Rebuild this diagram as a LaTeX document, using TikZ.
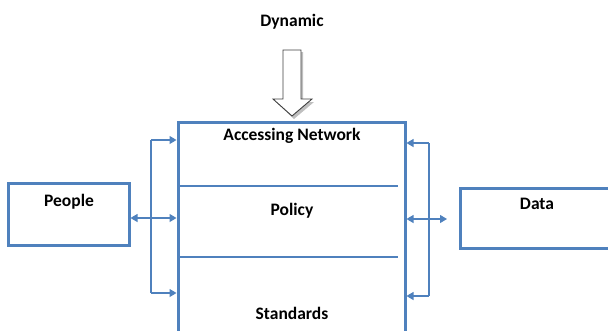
\documentclass[tikz,border=0pt]{standalone}
\usepackage{fontspec}
\setmainfont{Carlito}
\usetikzlibrary{arrows.meta}
\definecolor{oblue}{HTML}{4F81BD}
\tikzset{
  box/.style={draw=oblue, line width=3pt, fill=white, inner sep=0pt},
  lbl/.style={font=\bfseries\fontsize{17.5}{17.5}\selectfont, inner sep=0pt, text=black},
  conn/.style={draw=oblue, line width=1.1pt, -{Triangle[length=7pt,width=8pt]}},
  conn2/.style={draw=oblue, line width=1.1pt, {Triangle[length=7pt,width=8pt]}-{Triangle[length=7pt,width=8pt]}},
  brk/.style={draw=oblue, line width=1.1pt},
  divider/.style={draw=oblue, line width=1.1pt},
  blockarrow/.style={draw=black!75, line width=0.9pt, fill=white}
}
\begin{document}
\begin{tikzpicture}[x=1pt,y=-1pt]
\useasboundingbox (0,0) rectangle (608,330);
\clip (0,0) rectangle (608,330);
% boxes
\node[box, minimum width=227pt, minimum height=226pt] (main) at (291.5,235) {};
\node[box, minimum width=121pt, minimum height=62pt] (people) at (68.5,214) {};
\node[box, minimum width=160pt, minimum height=60pt] (data) at (540,218) {};
% dividers
\coordinate (d1a) at (178,186); \coordinate (d1b) at (398,186);
\coordinate (d2a) at (178,257); \coordinate (d2b) at (398,257);
\draw[divider] (d1a) -- (d1b);
\draw[divider] (d2a) -- (d2b);
% labels
\node[lbl] (tdyn) at (292,21.5) {Dynamic};
\node[lbl] (tacc) at (292,135.5) {Accessing Network};
\node[lbl] (tpol) at (292,210.5) {Policy};
\node[lbl] (tstd) at (292,313) {Standards};
\node[lbl] (tpeo) at (69,201.5) {People};
\node[lbl] (tdat) at (537,203.5) {Data};
% block arrow
\fill[black!25] (285,52) -- (303,52) -- (303,102) -- (314,102) -- (294,119) -- (276,102) -- (285,102) -- cycle;
\draw[blockarrow] (283,50) -- (301,50) -- (301,99) -- (312,99) -- (292,116) -- (273,99) -- (283,99) -- cycle;
% left bracket
\coordinate (lb1) at (151,140);
\coordinate (lb2) at (151,218);
\coordinate (lb3) at (151,293);
\draw[brk] (lb1) -- (lb3);
\draw[conn] (lb1) -- (lb1 -| main.west);
\draw[conn] (lb3) -- (lb3 -| main.west);
\draw[conn2] (people.east |- lb2) -- (lb2 -| main.west);
% right bracket
\coordinate (rb1) at (429,143);
\coordinate (rb2) at (429,219);
\coordinate (rb3) at (429,296);
\coordinate (dtip) at (447,219);
\draw[brk] (rb1) -- (rb3);
\draw[conn] (rb1) -- (rb1 -| main.east);
\draw[conn] (rb3) -- (rb3 -| main.east);
\draw[conn2] (rb2 -| main.east) -- (dtip);
\end{tikzpicture}
\end{document}
